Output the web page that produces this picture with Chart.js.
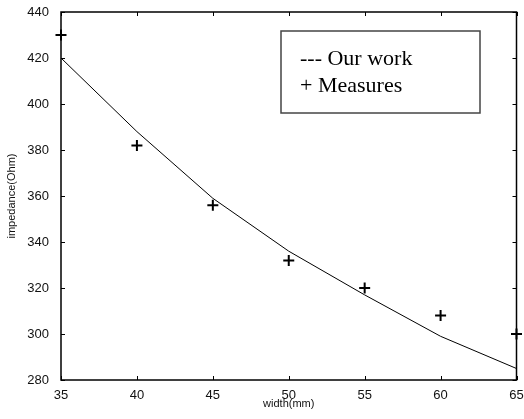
<!DOCTYPE html>
<html>
<head>
<meta charset="utf-8">
<script src="https://cdn.jsdelivr.net/npm/chart.js@4"></script>
<style>
  html, body { margin: 0; padding: 0; background: #fff; }
  #wrap { width: 524px; height: 419px; }
</style>
</head>
<body>
<div id="wrap"><canvas id="chart"></canvas></div>
<script>
// widths (mm) and impedance values
const widths = [35, 40, 45, 50, 55, 60, 65];
const ourWork = [420, 388, 359, 336, 317, 299, 285];
const measures = [430, 382, 356, 332, 320, 308, 300];
const xTicks = [35, 40, 45, 50, 55, 60, 65];
const yTicks = [280, 300, 320, 340, 360, 380, 400, 420, 440];

const toPoints = (ys) => widths.map((w, i) => ({ x: w, y: ys[i] }));

// inward ticks on all four sides, plus the box and the legend
const framePlugin = {
  id: 'frame',
  afterDatasetsDraw(c) {
    const ctx = c.ctx;
    const a = c.chartArea;
    const xs = c.scales.x, ys = c.scales.y;
    const len = 4;
    ctx.save();
    ctx.strokeStyle = '#000';
    ctx.lineWidth = 1;
    ctx.beginPath();
    xTicks.forEach(v => {
      const px = Math.round(xs.getPixelForValue(v)) + 0.5;
      ctx.moveTo(px, a.bottom); ctx.lineTo(px, a.bottom - len);
      ctx.moveTo(px, a.top); ctx.lineTo(px, a.top + len);
    });
    yTicks.forEach(v => {
      const py = Math.round(ys.getPixelForValue(v)) + 0.5;
      ctx.moveTo(a.left, py); ctx.lineTo(a.left + len, py);
      ctx.moveTo(a.right, py); ctx.lineTo(a.right - len, py);
    });
    ctx.stroke();

    ctx.lineWidth = 1.5;
    ctx.strokeRect(a.left, a.top, a.right - a.left, a.bottom - a.top);

    // legend box
    const bx = a.left + 220, by = a.top + 19, bw = 199, bh = 82;
    ctx.fillStyle = '#fff';
    ctx.fillRect(bx, by, bw, bh);
    ctx.strokeStyle = '#444';
    ctx.lineWidth = 1.5;
    ctx.strokeRect(bx, by, bw, bh);
    ctx.fillStyle = '#000';
    ctx.font = '22px "Liberation Serif", "Times New Roman", serif';
    ctx.textBaseline = 'alphabetic';
    ctx.fillText('--- Our work', bx + 19, by + 34);
    ctx.fillText('+ Measures', bx + 19, by + 61);
    ctx.restore();
  }
};

const tickFont = { family: '"Liberation Sans", Arial, sans-serif', size: 13 };
const titleFont = { family: '"Liberation Sans", Arial, sans-serif', size: 11 };

new Chart(document.getElementById('chart'), {
  type: 'scatter',
  data: {
    datasets: [
      {
        label: 'Our work',
        data: toPoints(ourWork),
        showLine: true,
        borderColor: '#000',
        borderWidth: 1,
        pointRadius: 0,
        fill: false
      },
      {
        label: 'Measures',
        data: toPoints(measures),
        showLine: false,
        pointStyle: 'cross',
        pointRadius: 5.5,
        pointBorderWidth: 2,
        pointBorderColor: '#000',
        pointBackgroundColor: '#000',
        clip: false
      }
    ]
  },
  options: {
    responsive: true,
    maintainAspectRatio: false,
    animation: false,
    layout: { padding: { top: 12, right: 5, left: 0, bottom: 0 } },
    plugins: { legend: { display: false }, tooltip: { enabled: false } },
    scales: {
      x: {
        type: 'linear',
        min: 35,
        max: 65,
        afterBuildTicks: (s) => { s.ticks = xTicks.map(v => ({ value: v })); },
        afterFit: (s) => { s.height = 39; },
        grid: { display: false },
        border: { display: false },
        ticks: { color: '#111', font: tickFont, padding: 0, maxRotation: 0 },
        title: {
          display: true,
          text: 'width(mm)',
          color: '#111',
          font: titleFont,
          padding: { top: 0, bottom: 8 }
        }
      },
      y: {
        min: 280,
        max: 440,
        afterBuildTicks: (s) => { s.ticks = yTicks.map(v => ({ value: v })); },
        afterFit: (s) => { s.width = 61; },
        grid: { display: false },
        border: { display: false },
        ticks: { color: '#111', font: tickFont, padding: 4 },
        title: {
          display: true,
          text: 'impedance(Ohm)',
          color: '#111',
          font: titleFont,
          padding: { top: 5, bottom: 0 }
        }
      }
    }
  },
  plugins: [framePlugin]
});
</script>
</body>
</html>
